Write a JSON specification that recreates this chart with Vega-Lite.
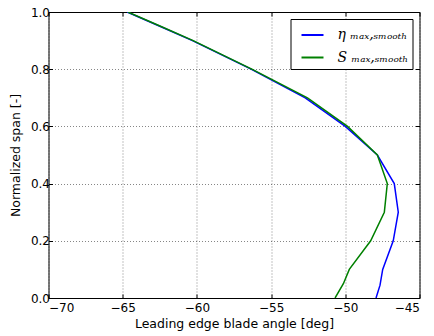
{
  "$schema": "https://vega.github.io/schema/vega-lite/v6.json",
  "width": 371,
  "height": 286,
  "autosize": {"type": "none"},
  "padding": {"left": 48.5, "top": 12, "right": 14.5, "bottom": 38},
  "background": "white",
  "config": {
    "font": "DejaVu Sans",
    "view": {"stroke": "black", "strokeWidth": 1},
    "axis": {
      "labelFont": "DejaVu Sans", "labelFontSize": 12, "labelColor": "black",
      "titleFont": "DejaVu Sans", "titleFontSize": 12.5, "titleFontWeight": "normal", "titleColor": "black",
      "domain": false, "tickColor": "black", "tickSize": -4, "tickWidth": 1,
      "grid": true, "gridColor": "black", "gridDash": [1, 2], "gridWidth": 0.6, "gridOpacity": 0.8
    }
  },
  "data": {
    "values": [
      {"series": "eta", "y": 0.0, "x": -47.93},
      {"series": "eta", "y": 0.045, "x": -47.66},
      {"series": "eta", "y": 0.1, "x": -47.48},
      {"series": "eta", "y": 0.2, "x": -46.77},
      {"series": "eta", "y": 0.3, "x": -46.43},
      {"series": "eta", "y": 0.4, "x": -46.7},
      {"series": "eta", "y": 0.5, "x": -47.84},
      {"series": "eta", "y": 0.6, "x": -50.0},
      {"series": "eta", "y": 0.7, "x": -52.7},
      {"series": "eta", "y": 0.8, "x": -56.35},
      {"series": "eta", "y": 0.9, "x": -60.3},
      {"series": "eta", "y": 0.95, "x": -62.5},
      {"series": "eta", "y": 1.0, "x": -64.7},
      {"series": "S", "y": 0.0, "x": -50.69},
      {"series": "S", "y": 0.05, "x": -50.13},
      {"series": "S", "y": 0.1, "x": -49.73},
      {"series": "S", "y": 0.2, "x": -48.29},
      {"series": "S", "y": 0.3, "x": -47.37},
      {"series": "S", "y": 0.4, "x": -47.17},
      {"series": "S", "y": 0.5, "x": -47.84},
      {"series": "S", "y": 0.6, "x": -49.85},
      {"series": "S", "y": 0.7, "x": -52.55},
      {"series": "S", "y": 0.8, "x": -56.3},
      {"series": "S", "y": 0.9, "x": -60.25},
      {"series": "S", "y": 0.95, "x": -62.45},
      {"series": "S", "y": 1.0, "x": -64.65}
    ]
  },
  "layer": [
    {
      "mark": {"type": "line", "strokeWidth": 1.5, "clip": true},
      "encoding": {
        "x": {"field": "x", "type": "quantitative", "scale": {"domain": [-70, -45], "nice": false, "zero": false},
          "axis": {"values": [-70, -65, -60, -55, -50, -45], "title": "Leading edge blade angle [deg]", "labelPadding": 8, "titlePadding": 4, "format": "d",
            "labelExpr": "replace(datum.label, '-', '−')"}},
        "y": {"field": "y", "type": "quantitative", "scale": {"domain": [0, 1], "nice": false},
          "axis": {"values": [0, 0.2, 0.4, 0.6, 0.8, 1.0], "format": ".1f", "title": "Normalized span [-]", "labelPadding": 3, "titlePadding": 8}},
        "order": {"field": "y", "type": "quantitative"},
        "color": {"field": "series", "type": "nominal",
          "scale": {"domain": ["eta", "S"], "range": ["#0000ff", "#008000"]},
          "legend": {
            "title": null, "orient": "top-right", "offset": 7,
            "labelExpr": "datum.value == 'eta' ? 'η ₘₐₓ,ₛₘₒₒₜₕ' : 'S ₘₐₓ,ₛₘₒₒₜₕ'",
            "labelFont": "DejaVu Serif", "labelFontStyle": "italic", "labelFontSize": 14, "labelColor": "black",
            "symbolType": "stroke", "symbolStrokeWidth": 2, "symbolSize": 484,
            "strokeColor": "black", "fillColor": "white", "padding": 4, "rowPadding": 3.5,
            "symbolOffset": 6, "labelOffset": 13, "cornerRadius": 0
          }
        }
      }
    },
    {
      "mark": {"type": "line", "opacity": 0},
      "encoding": {
        "x": {"field": "x", "type": "quantitative", "scale": {"domain": [-70, -45], "nice": false, "zero": false},
          "axis": {"orient": "top", "values": [-70, -65, -60, -55, -50, -45], "labels": false, "title": null, "grid": false}},
        "y": {"field": "y", "type": "quantitative", "scale": {"domain": [0, 1], "nice": false},
          "axis": {"orient": "right", "values": [0, 0.2, 0.4, 0.6, 0.8, 1.0], "labels": false, "title": null, "grid": false}}
      }
    }
  ],
  "resolve": {"scale": {"x": "independent", "y": "independent"}, "axis": {"x": "independent", "y": "independent"}}
}
